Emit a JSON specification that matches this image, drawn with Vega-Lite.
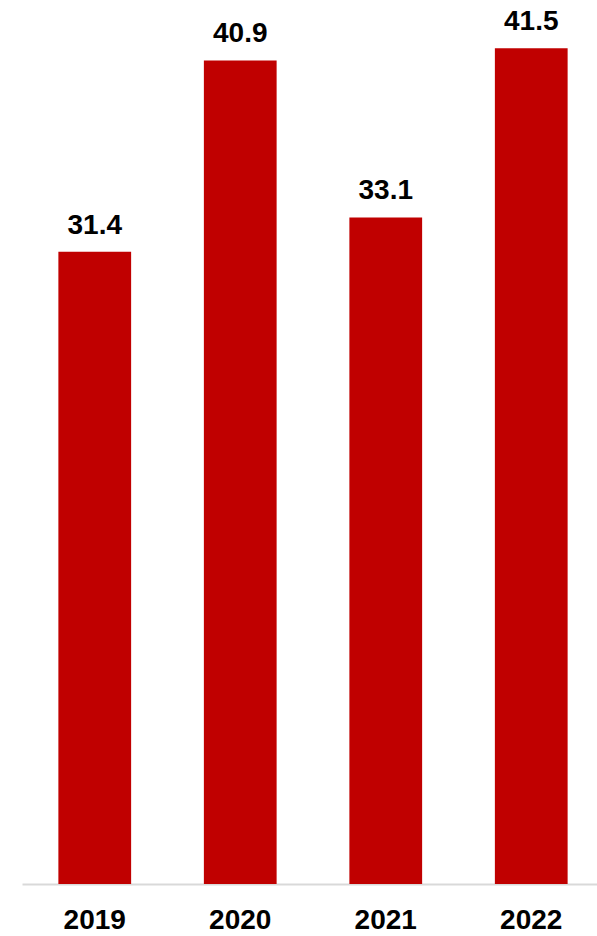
{
  "$schema": "https://vega.github.io/schema/vega-lite/v6.json",
  "autosize": {"type": "none"},
  "width": 582,
  "height": 884,
  "padding": {"left": 22, "top": 0, "right": 0, "bottom": 52},
  "background": "white",
  "config": {"view": {"stroke": null}},
  "data": {"values": [
    {"year": "2019", "value": 31.4},
    {"year": "2020", "value": 40.9},
    {"year": "2021", "value": 33.1},
    {"year": "2022", "value": 41.5}
  ]},
  "encoding": {
    "x": {"field": "year", "type": "nominal", "sort": null,
      "scale": {"paddingInner": 0.5, "paddingOuter": 0.25},
      "axis": {"title": null, "labelAngle": 0, "ticks": false, "tickSize": 0, "labelPadding": 44,
        "labelBaseline": "alphabetic", "labelFont": "Liberation Sans", "labelFontSize": 28,
        "labelFontWeight": "bold", "labelColor": "#000000", "domainColor": "#d9d9d9", "domainWidth": 2}},
    "y": {"field": "value", "type": "quantitative", "scale": {"domain": [0, 43.9], "nice": false}, "axis": null}
  },
  "layer": [
    {"mark": {"type": "bar", "color": "#c00000"}},
    {"mark": {"type": "text", "baseline": "alphabetic", "dy": -18, "font": "Liberation Sans", "fontSize": 28, "fontWeight": "bold", "color": "#000000"},
     "encoding": {"text": {"field": "value", "type": "quantitative", "format": ".1f"}}}
  ]
}
